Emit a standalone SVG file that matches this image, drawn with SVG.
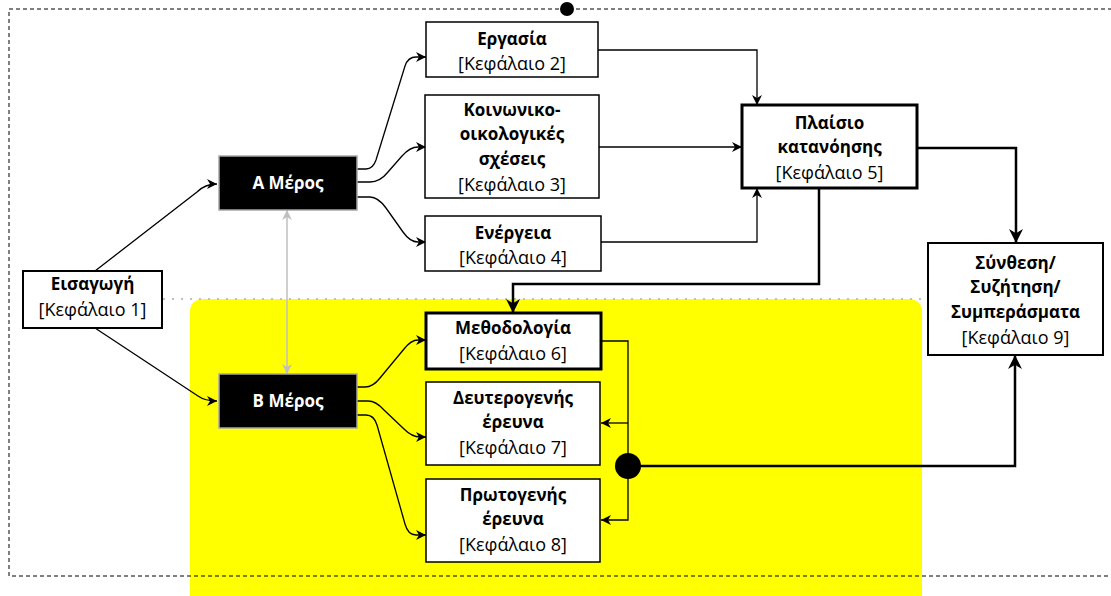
<svg xmlns="http://www.w3.org/2000/svg" width="1111" height="596" viewBox="0 0 1111 596">
<defs>
<style>
.box{fill:#fff;stroke:#000;stroke-width:1.5}
.thick{stroke-width:3}
.med{stroke-width:2}
.dark{fill:#000;stroke:#a6a6a6;stroke-width:1.5}
.t{font-family:"Open Sans","Liberation Sans",sans-serif;font-size:18px;text-anchor:middle;fill:#000}
.b{font-weight:bold;font-size:17px}
.w{fill:#fff}
.c{fill:none;stroke:#000;stroke-width:1.3}
.ct{fill:none;stroke:#000;stroke-width:2.5}
.g{fill:none;stroke:#bfbfbf;stroke-width:1.5}
</style>
<marker id="a" viewBox="0 0 10 10" refX="10" refY="5" markerWidth="10" markerHeight="10" markerUnits="userSpaceOnUse" orient="auto"><path d="M0,0 L10,5 L0,10 L3,5 Z" fill="#000"/></marker>
<marker id="A" viewBox="0 0 10 10" refX="10" refY="5" markerWidth="14" markerHeight="14" markerUnits="userSpaceOnUse" orient="auto"><path d="M0,0 L10,5 L0,10 L3,5 Z" fill="#000"/></marker>
<marker id="ga" viewBox="0 0 10 10" refX="10" refY="5" markerWidth="10" markerHeight="10" markerUnits="userSpaceOnUse" orient="auto-start-reverse"><path d="M0,0 L10,5 L0,10 L3,5 Z" fill="#bfbfbf"/></marker>
</defs>
<rect x="190" y="299" width="732" height="310" rx="12" fill="#ffff00"/>
<rect x="9" y="9" width="1120" height="567" fill="none" stroke="#000" stroke-width="1" stroke-dasharray="4 3"/>
<circle cx="567" cy="9" r="7" fill="#000"/>
<line x1="163" y1="299" x2="928" y2="299" stroke="#c0c0c0" stroke-width="2" stroke-dasharray="2 7"/>
<g id="connectors">
<path class="c" d="M95,271 L197,192 Q205,184 217,184" marker-end="url(#a)"/>
<path class="c" d="M95,328 L198,396 Q205,401 217,401" marker-end="url(#a)"/>
<path class="c" d="M357,169 L366,169 Q373,169 376,160 L405,66 Q408,57 416,57 L426,57" marker-end="url(#a)"/>
<path class="c" d="M357,182 L370,182 Q380,182 388,172 L402,156 Q410,147 418,147 L426,147" marker-end="url(#a)"/>
<path class="c" d="M357,197 L370,197 Q378,197 386,208 L403,232 Q410,242 418,242 L426,242" marker-end="url(#a)"/>
<path class="c" d="M598,50 L757,50 L757,105" marker-end="url(#a)"/>
<path class="c" d="M599,147 L742,147" marker-end="url(#a)"/>
<path class="c" d="M601,242 L757,242 L757,188" marker-end="url(#a)"/>
<path class="ct" d="M917,148 L1016,148 L1016,243" marker-end="url(#A)"/>
<path class="ct" d="M819,188 L819,284 L513,284 L513,313" marker-end="url(#A)"/>
<path class="c" d="M357,387 L365,387 Q373,387 380,378 L404,349 Q411,340 418,340 L426,340" marker-end="url(#a)"/>
<path class="c" d="M357,401 L368,401 Q376,401 384,410 L404,429 Q412,437 420,437 L426,437" marker-end="url(#a)"/>
<path class="c" d="M357,415 L366,415 Q374,415 377,425 L405,524 Q408,535 416,535 L426,535" marker-end="url(#a)"/>
<path class="c" d="M601,341 L628,341 L628,520 L601,520" marker-end="url(#a)"/>
<path class="c" d="M628,423 L601,423" marker-end="url(#a)"/>
<path class="ct" d="M628,466 L1015,466 L1015,355" marker-end="url(#A)"/>
<circle cx="628" cy="466" r="13" fill="#000"/>
<path class="g" d="M287,210 L287,374" marker-start="url(#ga)" marker-end="url(#ga)"/>
</g>
<g id="n1"><rect class="box med" x="23" y="271" width="139" height="57"/><text class="t b" x="92.5" y="290">Εισαγωγή</text><text class="t" x="92.5" y="316">[Κεφάλαιο 1]</text></g>
<g id="nA"><rect class="dark" x="219" y="156" width="138" height="54"/><text class="t b w" x="288" y="189">Α Μέρος</text></g>
<g id="nB"><rect class="dark" x="219" y="374" width="138" height="54"/><text class="t b w" x="288" y="407">Β Μέρος</text></g>
<g id="n2"><rect class="box" x="426" y="22" width="172" height="55"/><text class="t b" x="512" y="45">Εργασία</text><text class="t" x="512" y="70">[Κεφάλαιο 2]</text></g>
<g id="n3"><rect class="box" x="425" y="95" width="174" height="103"/><text class="t b" x="512" y="116">Κοινωνικο-</text><text class="t b" x="512" y="140">οικολογικές</text><text class="t b" x="512" y="165">σχέσεις</text><text class="t" x="512" y="191">[Κεφάλαιο 3]</text></g>
<g id="n4"><rect class="box" x="425" y="216" width="176" height="55"/><text class="t b" x="513" y="239">Ενέργεια</text><text class="t" x="513" y="264">[Κεφάλαιο 4]</text></g>
<g id="n5"><rect class="box thick" x="742" y="105" width="175" height="83"/><text class="t b" x="829.5" y="129">Πλαίσιο</text><text class="t b" x="829.5" y="153">κατανόησης</text><text class="t" x="829.5" y="179">[Κεφάλαιο 5]</text></g>
<g id="n9"><rect class="box med" x="928" y="243" width="175" height="112"/><text class="t b" x="1015.5" y="269">Σύνθεση/</text><text class="t b" x="1015.5" y="293">Συζήτηση/</text><text class="t b" x="1015.5" y="318">Συμπεράσματα</text><text class="t" x="1015.5" y="344">[Κεφάλαιο 9]</text></g>
<g id="n6"><rect class="box thick" x="426" y="313" width="175" height="56"/><text class="t b" x="513" y="334">Μεθοδολογία</text><text class="t" x="513" y="360">[Κεφάλαιο 6]</text></g>
<g id="n7"><rect class="box" x="426" y="382" width="174" height="83"/><text class="t b" x="513" y="404">Δευτερογενής</text><text class="t b" x="513" y="428">έρευνα</text><text class="t" x="513" y="454">[Κεφάλαιο 7]</text></g>
<g id="n8"><rect class="box" x="426" y="479" width="174" height="83"/><text class="t b" x="513" y="501">Πρωτογενής</text><text class="t b" x="513" y="525">έρευνα</text><text class="t" x="513" y="551">[Κεφάλαιο 8]</text></g>
</svg>
